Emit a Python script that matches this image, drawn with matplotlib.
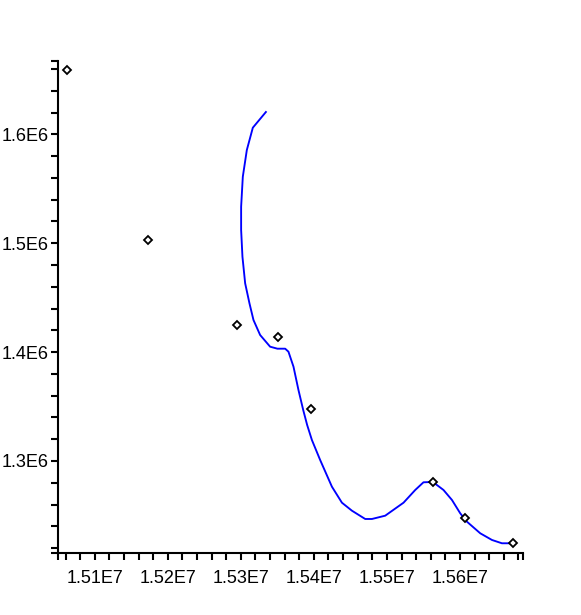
import matplotlib
matplotlib.use("Agg")
import matplotlib.pyplot as plt
import numpy as np

# data points (diamonds)
pts_x = [1.5062e7, 1.5173e7, 1.5295e7, 1.5351e7, 1.5396e7, 1.5563e7, 1.5607e7, 1.5673e7]
pts_y = [1.6590e6, 1.5029e6, 1.4249e6, 1.4139e6, 1.3477e6, 1.2807e6, 1.2477e6, 1.2247e6]

# fitted curve
curve_x = [1.53343e7, 1.53164e7, 1.53082e7, 1.53027e7, 1.53004e7, 1.53004e7, 1.53022e7,
           1.53059e7, 1.53118e7, 1.53173e7, 1.53264e7, 1.53401e7, 1.53501e7, 1.53607e7,
           1.53652e7, 1.53721e7, 1.53789e7, 1.53854e7, 1.53908e7, 1.53973e7, 1.54086e7,
           1.54247e7, 1.54384e7, 1.54521e7, 1.54703e7, 1.54795e7, 1.54977e7, 1.55228e7,
           1.55388e7, 1.55501e7, 1.55630e7, 1.55775e7, 1.55891e7, 1.56004e7, 1.56096e7,
           1.56278e7, 1.56439e7, 1.56575e7, 1.56744e7]
curve_y = [1.62048e6, 1.60606e6, 1.58558e6, 1.56106e6, 1.53351e6, 1.51212e6, 1.48760e6,
           1.46317e6, 1.44481e6, 1.42947e6, 1.41570e6, 1.40495e6, 1.40312e6, 1.40312e6,
           1.40036e6, 1.38658e6, 1.36519e6, 1.34683e6, 1.33305e6, 1.31928e6, 1.30091e6,
           1.27640e6, 1.26170e6, 1.25435e6, 1.24673e6, 1.24673e6, 1.24976e6, 1.26170e6,
           1.27336e6, 1.28043e6, 1.28071e6, 1.27336e6, 1.26418e6, 1.25196e6, 1.24425e6,
           1.23360e6, 1.22745e6, 1.22442e6, 1.22442e6]

xlim = (1.5050e7, 1.5686e7)
ylim = (1.2152e6, 1.6676e6)
xlabels = ["1.51E7", "1.52E7", "1.53E7", "1.54E7", "1.55E7", "1.56E7"]
ylabels = ["1.3E6", "1.4E6", "1.5E6", "1.6E6"]

plt.rcParams['font.family'] = ['Liberation Sans', 'DejaVu Sans']

fig = plt.figure(figsize=(5.81, 6.15), dpi=100)
ax = fig.add_axes([0.1003, 0.1003, 0.7994, 0.801])

ax.plot(curve_x, curve_y, color='#0000ff', lw=1.35, zorder=2)
ax.plot(pts_x, pts_y, ls='none', marker='D', ms=4.2, mfc='white', mec='black', mew=1.3, zorder=3)

ax.set_xlim(*xlim)
ax.set_ylim(*ylim)

for s in ['top', 'right']:
    ax.spines[s].set_visible(False)
for s in ['left', 'bottom']:
    ax.spines[s].set_linewidth(1.5)

xmaj = [1.51e7, 1.52e7, 1.53e7, 1.54e7, 1.55e7, 1.56e7]
ymaj = [1.3e6, 1.4e6, 1.5e6, 1.6e6]
ax.set_xticks(xmaj)
ax.set_xticklabels(xlabels)
ax.set_yticks(ymaj)
ax.set_yticklabels(ylabels)
xmin = list(np.arange(1.506e7, 1.5681e7, 2e4)) + [xlim[0], xlim[1]]
ymin = list(np.arange(1.22e6, 1.661e6, 2e4)) + [ylim[0], ylim[1]]
ax.set_xticks(xmin, minor=True)
ax.set_yticks(ymin, minor=True)

ax.tick_params(which='both', direction='out', length=5, width=1.5, color='black')
ax.tick_params(axis='x', which='major', labelsize=13, pad=7)
ax.tick_params(axis='y', which='major', labelsize=13, pad=2)

fig.savefig("out.png", dpi=100)
